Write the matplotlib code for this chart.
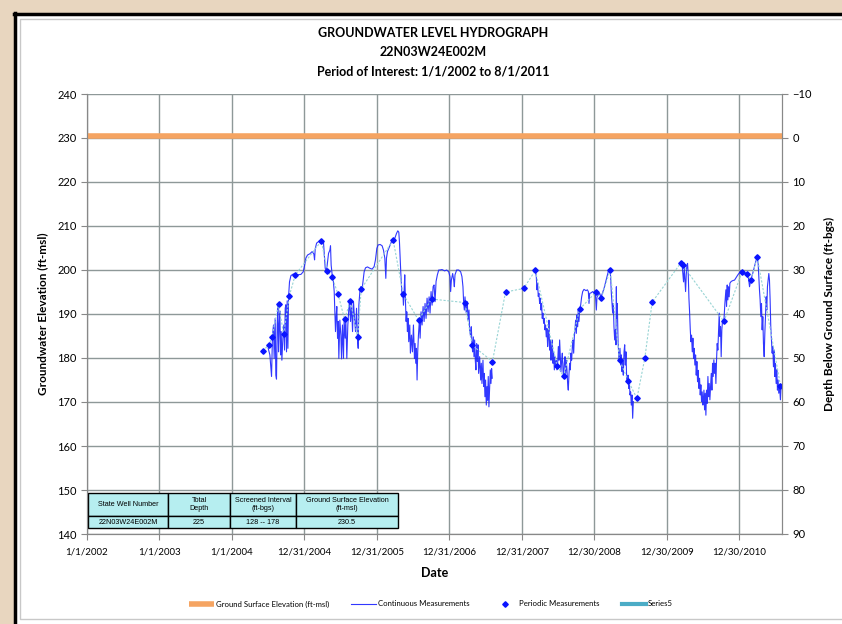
import numpy as np
from datetime import datetime, timedelta
from matplotlib import pyplot as plt
from matplotlib.patches import Rectangle
from matplotlib.lines import Line2D

title_lines = ["GROUNDWATER LEVEL HYDROGRAPH", "22N03W24E002M", "Period of Interest: 1/1/2002 to 8/1/2011"]
x_tick_labels = ["1/1/2002", "1/1/2003", "1/1/2004", "12/31/2004", "12/31/2005",
                 "12/31/2006", "12/31/2007", "12/30/2008", "12/30/2009", "12/30/2010"]
x_start = "1/1/2002"
x_end = "8/1/2011"
ground_surface = 230.5

# periodic (manual) measurements, decimal year / elevation ft-msl
periodic_year = [2004.42, 2004.51, 2004.55, 2004.64, 2004.71, 2004.79, 2004.87, 2005.23, 2005.31,
                 2005.38, 2005.46, 2005.55, 2005.63, 2005.73, 2005.78, 2006.22, 2006.36, 2006.57,
                 2006.75, 2007.21, 2007.31, 2007.59, 2007.77, 2008.02, 2008.18, 2008.48, 2008.57,
                 2008.79, 2009.01, 2009.09, 2009.21, 2009.34, 2009.46, 2009.58, 2009.69, 2009.79,
                 2010.19, 2010.21, 2010.78, 2011.03, 2011.10, 2011.15, 2011.24, 2011.56]
periodic_elev = [181.6, 183.0, 184.8, 192.3, 185.4, 194.2, 198.9, 206.6, 199.8,
                 198.3, 194.5, 188.8, 193.0, 184.8, 195.7, 206.8, 194.5, 188.6,
                 193.4, 192.6, 182.9, 179.2, 195.0, 195.8, 199.9, 178.2, 175.8,
                 191.1, 194.9, 193.7, 200.0, 179.6, 174.8, 170.8, 180.1, 192.7,
                 201.7, 201.1, 188.3, 199.6, 199.0, 197.7, 202.9, 173.7]

# continuous (transducer) record, nan marks the data gaps
cont_year = [
    2004.498, 2004.521, 2004.534, 2004.544, 2004.557, 2004.571, 2004.580, 2004.594, 2004.603, 2004.612,
    2004.622, 2004.631, 2004.640, 2004.649, 2004.658, 2004.668, 2004.677, 2004.686, 2004.700, 2004.713,
    2004.723, 2004.732, 2004.741, 2004.750, 2004.759, 2004.769, 2004.778, 2004.791, 2004.810, 2004.833,
    2004.865, 2004.902, 2004.948, 2004.980, 2004.998, 2005.016, 2005.039, 2005.072, 2005.104, 2005.127,
    2005.136, 2005.145, 2005.164, 2005.186, 2005.214, 2005.241, 2005.260, 2005.274, 2005.283, 2005.297,
    2005.310, 2005.329, 2005.347, 2005.356, 2005.365, 2005.379, 2005.393, 2005.407, 2005.416, 2005.425,
    2005.434, 2005.443, 2005.453, 2005.462, 2005.471, 2005.485, 2005.499, 2005.508, 2005.521, 2005.535,
    2005.544, 2005.558, 2005.567, 2005.581, 2005.595, 2005.609, 2005.618, 2005.632, 2005.646, 2005.660,
    2005.673, 2005.687, 2005.701, 2005.715, 2005.728, 2005.738, 2005.747, 2005.761, 2005.774, 2005.793,
    2005.807, 2005.820, 2005.839, 2005.866, 2005.898, 2005.930, 2005.958, 2005.976, 2005.995, 2006.013,
    2006.041, 2006.068, 2006.087, 2006.105, 2006.119, 2006.128, 2006.142, 2006.165, 2006.188, 2006.211,
    2006.243, 2006.266, 2006.284, 2006.298, 2006.307, 2006.316, 2006.325, 2006.334, 2006.344, 2006.353,
    2006.362, 2006.371, 2006.380, 2006.390, 2006.399, 2006.408, 2006.417, 2006.426, 2006.435, 2006.449,
    2006.458, 2006.472, 2006.486, 2006.500, 2006.514, 2006.523, 2006.532, 2006.541, 2006.550, 2006.559,
    2006.569, 2006.582, 2006.592, 2006.605, 2006.619, 2006.633, 2006.647, 2006.660, 2006.674, 2006.688,
    2006.702, 2006.716, 2006.729, 2006.743, 2006.757, 2006.771, 2006.784, 2006.798, 2006.812, 2006.830,
    2006.849, 2006.866, 2006.894, 2006.931, 2006.958, 2006.986, 2007.004, 2007.013, 2007.023, 2007.041,
    2007.055, 2007.064, 2007.073, 2007.096, 2007.124, 2007.151, 2007.169, 2007.183, 2007.192, 2007.202,
    2007.211, 2007.220, 2007.229, 2007.243, 2007.252, 2007.266, 2007.275, 2007.289, 2007.298, 2007.307,
    2007.316, 2007.326, 2007.335, 2007.344, 2007.353, 2007.362, 2007.372, 2007.381, 2007.390, 2007.399,
    2007.413, 2007.427, 2007.436, 2007.445, 2007.459, 2007.468, 2007.477, 2007.486, 2007.495, 2007.505,
    2007.514, 2007.523, 2007.532, 2007.541, 2007.550, 2007.560, 2007.569, 2007.578, 2007.587, 2007.900,
    2008.180, 2008.194, 2008.203, 2008.212, 2008.221, 2008.230, 2008.240, 2008.249, 2008.258, 2008.267,
    2008.276, 2008.285, 2008.295, 2008.304, 2008.313, 2008.322, 2008.331, 2008.341, 2008.350, 2008.359,
    2008.368, 2008.377, 2008.386, 2008.396, 2008.405, 2008.414, 2008.423, 2008.432, 2008.442, 2008.451,
    2008.460, 2008.469, 2008.478, 2008.488, 2008.497, 2008.506, 2008.515, 2008.524, 2008.533, 2008.543,
    2008.552, 2008.561, 2008.570, 2008.579, 2008.589, 2008.598, 2008.607, 2008.616, 2008.625, 2008.634,
    2008.644, 2008.653, 2008.662, 2008.671, 2008.680, 2008.690, 2008.699, 2008.708, 2008.717, 2008.726,
    2008.735, 2008.745, 2008.754, 2008.763, 2008.772, 2008.781, 2008.791, 2008.804, 2008.818, 2008.832,
    2008.850, 2008.878, 2008.896, 2008.910, 2008.919, 2008.928, 2008.947, 2008.970, 2008.988, 2009.006,
    2009.020, 2009.029, 2009.048, 2009.066, 2009.084, 2009.103, 2009.126, 2009.149, 2009.172, 2009.190,
    2009.208, 2009.217, 2009.227, 2009.236, 2009.245, 2009.254, 2009.263, 2009.273, 2009.282, 2009.291,
    2009.296, 2009.300, 2009.309, 2009.319, 2009.332, 2009.337, 2009.346, 2009.356, 2009.365, 2009.374,
    2009.383, 2009.392, 2009.402, 2009.411, 2009.420, 2009.429, 2009.438, 2009.447, 2009.457, 2009.466,
    2009.475, 2009.484, 2009.493, 2009.502, 2009.512, 2009.521, 2009.530, 2009.850,
    2010.182, 2010.191, 2010.205, 2010.214, 2010.223, 2010.233, 2010.242, 2010.251, 2010.260, 2010.269,
    2010.278, 2010.288, 2010.297, 2010.306, 2010.315, 2010.324, 2010.333, 2010.343, 2010.352, 2010.361,
    2010.370, 2010.379, 2010.389, 2010.398, 2010.407, 2010.416, 2010.425, 2010.434, 2010.444, 2010.453,
    2010.462, 2010.471, 2010.480, 2010.490, 2010.494, 2010.504, 2010.513, 2010.522, 2010.531, 2010.540,
    2010.549, 2010.559, 2010.568, 2010.577, 2010.586, 2010.595, 2010.605, 2010.614, 2010.623, 2010.632,
    2010.641, 2010.650, 2010.660, 2010.669, 2010.678, 2010.687, 2010.696, 2010.706, 2010.715, 2010.724,
    2010.733, 2010.742, 2010.751, 2010.761, 2010.779, 2010.793, 2010.807, 2010.816, 2010.825, 2010.834,
    2010.843, 2010.852, 2010.862, 2010.880, 2010.903, 2010.926, 2010.949, 2010.972, 2010.995, 2011.018,
    2011.041, 2011.064, 2011.087, 2011.100, 2011.119, 2011.133, 2011.146, 2011.165, 2011.183, 2011.201,
    2011.220, 2011.238, 2011.252, 2011.261, 2011.270, 2011.279, 2011.289, 2011.298, 2011.307, 2011.316,
    2011.325, 2011.335, 2011.344, 2011.353, 2011.362, 2011.371, 2011.380, 2011.390, 2011.399, 2011.408,
    2011.417, 2011.426, 2011.436, 2011.445, 2011.454, 2011.463, 2011.472, 2011.481, 2011.490, 2011.500,
    2011.509, 2011.518, 2011.527, 2011.536, 2011.546, 2011.559, 2011.568]
cont_elev = [
    182.2, 180.7, 178.0, 175.8, 185.2, 187.5, 179.9, 189.0, 176.1, 175.2,
    187.5, 191.7, 181.4, 187.5, 190.7, 180.7, 186.0, 179.5, 184.5, 187.5,
    181.8, 191.3, 192.1, 181.4, 193.0, 182.2, 193.9, 197.3, 198.7, 199.0,
    199.2, 198.9, 199.0, 199.6, 201.0, 202.7, 203.4, 203.7, 204.2, 203.6,
    202.3, 204.8, 206.1, 206.4, 206.7, 206.6, 206.1, 202.7, 200.4, 199.8,
    201.1, 203.8, 204.5, 205.5, 201.1, 198.9, 197.9, 195.1, 190.5, 186.0,
    189.4, 191.7, 184.5, 188.3, 179.9, 188.6, 185.2, 179.8, 187.5, 179.9,
    188.6, 184.5, 189.0, 179.9, 187.5, 191.3, 193.0, 188.3, 192.4, 186.0,
    192.8, 189.0, 186.0, 191.3, 184.5, 182.2, 192.0, 195.1, 196.2, 195.8,
    197.7, 199.6, 200.5, 200.7, 200.4, 200.2, 200.8, 202.3, 204.9, 205.7,
    205.8, 205.5, 204.5, 202.7, 198.1, 202.7, 204.2, 205.1, 206.1, 206.8,
    207.2, 208.3, 208.9, 208.6, 206.4, 202.7, 199.6, 196.6, 193.9, 195.1,
    192.0, 195.1, 198.9, 192.8, 188.3, 190.5, 186.0, 189.0, 183.7, 187.5,
    181.1, 185.2, 181.4, 187.5, 179.9, 183.3, 178.8, 182.2, 175.0, 181.4,
    185.2, 188.6, 184.5, 190.5, 187.5, 191.7, 188.3, 192.4, 189.0, 193.6,
    190.5, 193.9, 190.2, 195.1, 192.0, 196.2, 196.6, 192.8, 197.4, 198.9,
    200.0, 200.0, 200.1, 199.8, 200.0, 199.6, 198.5, 195.1, 197.7, 199.2,
    197.7, 196.2, 198.9, 200.0, 200.0, 199.6, 198.5, 196.2, 192.8, 190.9,
    193.9, 191.7, 190.2, 192.8, 188.6, 190.9, 186.4, 184.8, 187.1, 183.3,
    181.4, 184.8, 180.3, 184.1, 179.5, 177.3, 183.3, 179.2, 183.0, 176.5,
    180.3, 175.0, 178.8, 174.2, 179.5, 173.5, 176.5, 171.2, 175.0, 169.3,
    173.5, 170.4, 175.8, 168.9, 172.7, 177.3, 174.2, 177.6, 175.4, np.nan,
    200.0, 198.5, 195.5, 197.0, 194.0, 194.7, 192.4, 193.6, 190.9, 192.4,
    189.0, 190.2, 187.9, 189.0, 186.4, 187.5, 184.8, 186.7, 182.6, 184.5,
    188.6, 181.8, 184.1, 179.5, 182.2, 184.1, 178.8, 181.4, 177.3, 180.3,
    178.0, 179.5, 177.3, 178.8, 182.6, 179.5, 184.1, 180.3, 176.9, 179.5,
    181.1, 177.3, 175.4, 178.8, 180.3, 176.5, 179.5, 177.3, 174.2, 172.7,
    176.5, 178.8, 177.3, 181.1, 179.5, 182.6, 184.1, 181.1, 184.8, 186.4,
    188.6, 185.6, 189.8, 187.1, 190.9, 188.3, 191.3, 192.0, 193.9, 195.1,
    195.6, 195.3, 195.5, 195.1, 192.4, 194.7, 194.8, 195.1, 194.7, 194.7,
    190.9, 193.9, 194.3, 194.7, 193.9, 194.7, 195.8, 197.3, 198.9, 200.0,
    200.2, 198.5, 194.7, 192.4, 190.2, 192.4, 187.1, 184.1, 186.4, 183.0,
    196.2, 189.0, 192.4, 184.1, 179.5, 179.2, 182.2, 178.4, 180.7, 176.9,
    179.2, 176.1, 181.4, 183.0, 178.4, 181.4, 175.4, 174.6, 176.1, 173.1,
    174.6, 171.6, 172.3, 169.3, 171.6, 166.3, 170.1, np.nan,
    201.9, 201.5, 200.8, 198.9, 197.3, 200.4, 197.7, 195.1, 198.9, 201.1,
    201.5, 198.9, 193.6, 190.5, 186.7, 183.7, 185.2, 181.4, 184.5, 179.9,
    182.2, 178.4, 180.7, 176.1, 179.2, 174.6, 177.2, 173.1, 175.4, 171.6,
    173.9, 170.1, 172.3, 169.3, 169.7, 172.7, 168.2, 172.0, 167.0, 172.7,
    169.7, 175.8, 171.2, 174.2, 170.5, 173.5, 176.5, 172.7, 178.8, 175.8,
    179.6, 176.5, 178.8, 174.2, 179.6, 183.3, 181.8, 186.4, 190.2, 184.9,
    187.1, 180.3, 186.4, 188.6, 188.3, 192.4, 195.5, 191.7, 196.6, 193.2,
    196.2, 193.9, 197.0, 197.4, 197.6, 197.7, 198.3, 198.9, 199.4, 199.9,
    199.6, 199.2, 199.1, 198.6, 198.1, 196.2, 197.4, 198.5, 199.6, 200.8,
    202.0, 202.9, 201.5, 198.5, 195.5, 193.2, 189.4, 192.4, 186.4, 189.4,
    183.3, 180.3, 185.6, 189.4, 193.9, 190.9, 196.2, 197.7, 199.2, 197.7,
    193.2, 187.1, 184.1, 181.1, 182.6, 178.0, 181.8, 175.8, 178.8, 174.2,
    177.3, 172.7, 175.0, 172.0, 173.9, 170.5, 173.5]

table_cols = ["State Well Number", "Total\nDepth", "Screened Interval\n(ft-bgs)",
              "Ground Surface Elevation\n(ft-msl)"]
table_row = ["22N03W24E002M", "225", "128 -- 178", "230.5"]


def yr2date(y):
    yr = int(y)
    ndays = (datetime(yr + 1, 1, 1) - datetime(yr, 1, 1)).days
    return datetime(yr, 1, 1) + timedelta(days=(y - yr) * ndays)


def parse(s):
    return datetime.strptime(s, "%m/%d/%Y")


cont_dates = [yr2date(y) for y in cont_year]
per_dates = [yr2date(y) for y in periodic_year]
t0, t1 = parse(x_start), parse(x_end)

W, H = 842, 624
fig = plt.figure(figsize=(8.42, 6.24), dpi=100)
fig.patch.set_facecolor("white")
# beige frame around the screenshot, black outline, thin grey chart border
fig.patches.append(Rectangle((0, 0), 14 / W, 1, transform=fig.transFigure,
                             facecolor="#e8d6bf", edgecolor="none", zorder=-3))
fig.patches.append(Rectangle((0, 1 - 13 / H), 1, 13 / H, transform=fig.transFigure,
                             facecolor="#e8d6bf", edgecolor="none", zorder=-3))
fig.lines.append(Line2D([15 / W, 15 / W], [0, 1 - 13 / H], transform=fig.transFigure,
                        color="black", lw=2.5, zorder=-2))
fig.lines.append(Line2D([14 / W, 1], [1 - 14 / H, 1 - 14 / H], transform=fig.transFigure,
                        color="black", lw=2.5, zorder=-2))
fig.lines.append(Line2D([1, 20 / W, 20 / W, 1], [1 - 19 / H, 1 - 19 / H, 1 - 619 / H, 1 - 619 / H],
                        transform=fig.transFigure, color="#c8c8c8", lw=1.0, zorder=-1))

ax = fig.add_axes([87 / W, 1 - 534 / H, 695 / W, 440 / H])
ax.set_facecolor("white")

ax.plot([t0, t1], [ground_surface, ground_surface], color="#f5a462", lw=4,
        label="Ground Surface Elevation (ft-msl)", zorder=3, solid_capstyle="butt")
ax.plot(cont_dates, cont_elev, color="#1a22ff", lw=0.8, alpha=0.9,
        label="Continuous Measurements", zorder=4)
ax.plot(per_dates, periodic_elev, color="#98d4d4", lw=0.8, ls=(0, (2, 1.5)), zorder=4)
ax.plot(per_dates, periodic_elev, ls="none", marker="D", ms=2.8, color="#0a14ff",
        label="Periodic Measurements", zorder=5)
ax.plot([], [], color="#4bacc6", lw=3, label="Series5")

xt = [parse(s) for s in x_tick_labels]
ax.set_xlim(t0, t1)
ax.set_xticks(xt)
ax.set_xticklabels(x_tick_labels, fontsize=7, family="Lato")
ax.set_ylim(140, 240)
ax.set_yticks(np.arange(140, 241, 10))
ax.tick_params(axis="y", labelsize=8, length=4, color="#888888", direction="out")
ax.tick_params(axis="x", length=4, color="#888888", direction="out", pad=6)
for lab in ax.get_yticklabels():
    lab.set_family("Lato")
ax.grid(True, color="#8e9898", lw=1.0, zorder=1)
for s in ax.spines.values():
    s.set_color("#888888")
ax.spines["top"].set_visible(False)

ax.set_ylabel("Groundwater Elevation (ft-msl)", fontsize=8.5, fontweight="bold", family="Lato", labelpad=6)
ax.set_xlabel("Date", fontsize=9, fontweight="bold", family="Lato", labelpad=7)

ax2 = ax.twinx()
ax2.set_ylim(90, -10)
ax2.set_yticks(np.arange(-10, 91, 10))
ax2.tick_params(axis="y", labelsize=8, length=4, color="#888888", direction="out")
for lab in ax2.get_yticklabels():
    lab.set_family("Lato")
for s in ax2.spines.values():
    s.set_color("#888888")
ax2.spines["top"].set_visible(False)
ax2.set_ylabel("Depth Below Ground Surface (ft-bgs)", fontsize=8.5, fontweight="bold", family="Lato",
               labelpad=9)

for i, t in enumerate(title_lines):
    fig.text(433 / W, 1 - (33 + 19 * i) / H, t, ha="center", va="center",
             fontsize=9, fontweight="bold", family="Lato")

# well information table
tab = ax.table(cellText=[table_row], colLabels=table_cols, cellLoc="center",
               colWidths=[80, 62, 66, 102],
               bbox=[1 / 695, 6 / 440, 310 / 695, 35 / 440])
tab.auto_set_font_size(False)
tab.set_fontsize(5.2)
tab.set_zorder(10)
for (r, c), cell in tab.get_celld().items():
    cell.set_facecolor("#b6eef0")
    cell.set_edgecolor("black")
    cell.set_linewidth(1.0)
    cell.set_height(0.66 if r == 0 else 0.34)
    cell.get_text().set_family("Liberation Sans")

fig.legend(loc="center", bbox_to_anchor=(0.512, 1 - 604 / H), ncol=4, frameon=False,
           prop={"family": "Lato", "size": 5.6}, handlelength=3.2, columnspacing=2.9, handletextpad=0.2)

fig.savefig("out.png", dpi=100, facecolor=fig.get_facecolor())
